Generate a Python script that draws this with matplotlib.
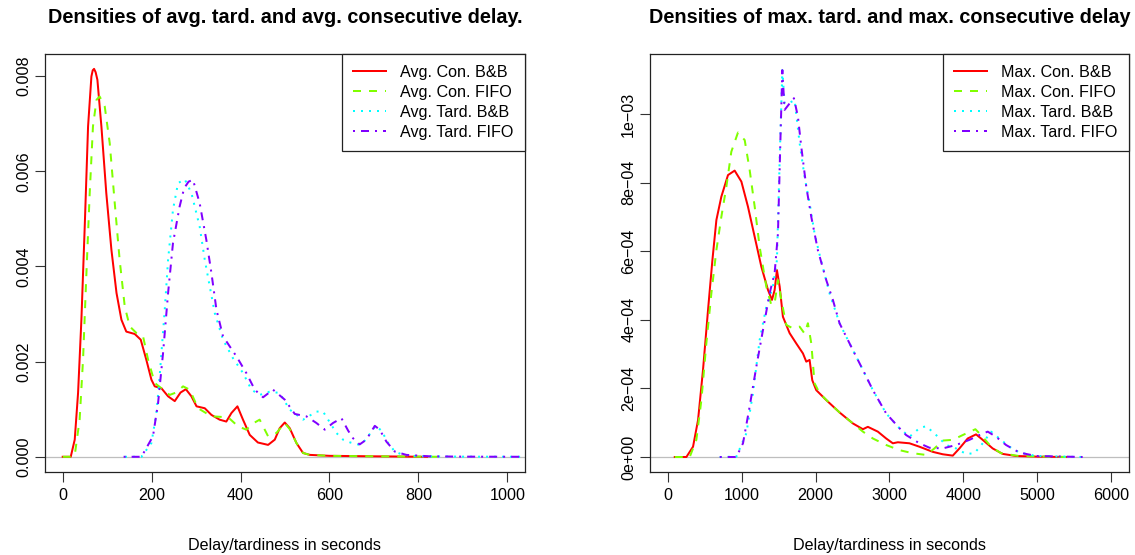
import matplotlib
matplotlib.use('Agg')
import matplotlib.pyplot as plt

plt.rcParams['font.family'] = ['Liberation Sans', 'DejaVu Sans']

# ---- left panel: average delay / tardiness densities ----
avg_con_bb_x = [0, 18, 27, 34.5, 42, 49.5, 57, 64.5, 67.5, 70.5, 74, 78, 87, 98, 109.5, 121, 132, 143,
                162, 175.5, 188, 199.5, 207, 222, 237, 252, 265, 277, 289.5, 301, 319.5, 334.5, 353,
                368, 379.5, 393, 405.5, 420.7, 439, 462, 477, 488, 499.5, 510.7, 525.7, 540.6, 555.7,
                600, 700, 820]
avg_con_bb_y = [0, 0, 0.00036, 0.00134, 0.00288, 0.00484, 0.00694, 0.00799, 0.00812, 0.00815, 0.00808,
                0.00792, 0.00694, 0.00554, 0.00435, 0.00344, 0.00288, 0.00263, 0.00258, 0.00246,
                0.00204, 0.00162, 0.00148, 0.00144, 0.00127, 0.00117, 0.00135, 0.00142, 0.00127,
                0.00106, 0.00102, 0.00088, 0.00078, 0.00074, 0.00092, 0.00106, 0.00078, 0.00046,
                0.00030, 0.00025, 0.00036, 0.00060, 0.00072, 0.00060, 0.00029, 0.00008, 0.00004,
                0.00002, 0.00001, 0]

avg_con_fifo_x = [0, 20, 27, 38, 45.7, 53, 60.7, 68, 76, 83, 94.5, 105.7, 117, 128, 139.5, 150.7, 165.8,
                  180.7, 192, 207, 222, 240.7, 255, 270.7, 285.7, 304.4, 334.5, 372, 394.4, 413, 428,
                  443, 462, 480.7, 499.5, 510.7, 525.7, 540.6, 555.7, 600, 700, 850]
avg_con_fifo_y = [0, 0, 0.00003, 0.00078, 0.00204, 0.00379, 0.00554, 0.00694, 0.0075, 0.00757, 0.00736,
                  0.00659, 0.00533, 0.00414, 0.00316, 0.00274, 0.0026, 0.00253, 0.00204, 0.00155,
                  0.00144, 0.0013, 0.00135, 0.00148, 0.00141, 0.00102, 0.00085, 0.00083, 0.00064,
                  0.00057, 0.0007, 0.00078, 0.00043, 0.0005, 0.00071, 0.00058, 0.00029, 0.00008,
                  0.00004, 0.00002, 0.00001, 0]

avg_tard_bb_x = [140, 177, 199.5, 210.8, 218, 229.5, 237, 248, 259.4, 274.5, 289.5, 308, 319.5, 330.7,
                 342, 360.6, 383, 405.6, 424.5, 443, 465.7, 488, 510.7, 540.6, 570.7, 585.6, 615.7,
                 630.6, 647, 668, 679.4, 690.7, 704, 717, 732, 747, 765.6, 803, 900, 1045]
avg_tard_bb_y = [0, 0, 0.00029, 0.00092, 0.00169, 0.00309, 0.00414, 0.00519, 0.00575, 0.00583, 0.00554,
                 0.00484, 0.00414, 0.00358, 0.00302, 0.00246, 0.00207, 0.00176, 0.00141, 0.0013,
                 0.00137, 0.00134, 0.00099, 0.00078, 0.00095, 0.00095, 0.0005, 0.00036, 0.0003,
                 0.00025, 0.00034, 0.00048, 0.00065, 0.00055, 0.00029, 0.00011, 0.00004, 0.00001,
                 0.000003, 0]

avg_tard_fifo_x = [137, 177, 203, 214.5, 225.7, 237, 248, 263, 273, 283, 293, 308, 323, 334.5, 345.8,
                   360.6, 390.7, 413, 432, 450.6, 473, 499.5, 522, 548, 570.7, 589.4, 608, 627, 642,
                   653, 668, 683, 702, 713, 728, 747, 773, 825, 900, 1045]
avg_tard_fifo_y = [0, 0, 0.00043, 0.00113, 0.00218, 0.00344, 0.00449, 0.00526, 0.00564, 0.00578,
                   0.00582, 0.00533, 0.00456, 0.00386, 0.00309, 0.00253, 0.00211, 0.00176, 0.00141,
                   0.00125, 0.00141, 0.0012, 0.0009, 0.00085, 0.00071, 0.00057, 0.00071, 0.00081,
                   0.00055, 0.00039, 0.00026, 0.00036, 0.00065, 0.00057, 0.00032, 0.00011, 0.00004,
                   0.00001, 0.000003, 0]

# ---- right panel: maximum delay / tardiness densities ----
max_con_bb_x = [95, 252, 342, 410, 477, 545, 604, 658, 725, 815, 905, 996, 1085, 1176, 1266, 1356,
                1410, 1446, 1477, 1514, 1558, 1649, 1739, 1829, 1874, 1919, 1955, 2009, 2144, 2324,
                2504, 2640, 2707, 2842, 2955, 3045, 3113, 3270, 3405, 3586, 3720, 3856, 3946, 4058,
                4171, 4261, 4396, 4531, 4712, 5000, 5390]
max_con_bb_y = [0, 0, 3.0e-5, 1.08e-4, 2.54e-4, 4.29e-4, 5.74e-4, 6.91e-4, 7.59e-4, 8.22e-4, 8.35e-4,
                8.03e-4, 7.30e-4, 6.42e-4, 5.55e-4, 4.87e-4, 4.58e-4, 4.87e-4, 5.45e-4, 4.97e-4,
                4.09e-4, 3.61e-4, 3.31e-4, 3.02e-4, 2.78e-4, 2.83e-4, 2.24e-4, 1.95e-4, 1.66e-4,
                1.30e-4, 9.8e-5, 8.1e-5, 8.8e-5, 7.4e-5, 5.4e-5, 4.0e-5, 4.3e-5, 4.0e-5, 3.0e-5,
                1.5e-5, 8e-6, 4e-6, 2.5e-5, 5.4e-5, 6.6e-5, 5.0e-5, 2.5e-5, 9e-6, 3e-6, 1e-6, 0]

max_con_fifo_x = [95, 297, 387, 455, 522, 590, 658, 725, 793, 860, 950, 1041, 1108, 1176, 1243, 1333,
                  1401, 1446, 1491, 1536, 1604, 1694, 1784, 1851, 1896, 1942, 1986, 2054, 2189, 2324,
                  2504, 2640, 2775, 2955, 3135, 3315, 3496, 3608, 3720, 3856, 3991, 4162, 4261, 4374,
                  4509, 4750, 5390]
max_con_fifo_y = [0, 0, 5.0e-5, 1.66e-4, 3.31e-4, 4.77e-4, 6.03e-4, 7.0e-4, 7.88e-4, 8.9e-4, 9.46e-4,
                  9.24e-4, 8.37e-4, 7.3e-4, 6.13e-4, 4.97e-4, 4.43e-4, 4.48e-4, 5.16e-4, 4.58e-4,
                  3.85e-4, 3.75e-4, 3.8e-4, 3.6e-4, 3.9e-4, 3.31e-4, 2.15e-4, 1.86e-4, 1.57e-4,
                  1.3e-4, 9.8e-5, 7.4e-5, 5.4e-5, 3.5e-5, 2.0e-5, 1.1e-5, 6e-6, 2.5e-5, 4.8e-5,
                  5.0e-5, 6.4e-5, 8.1e-5, 5.9e-5, 3.0e-5, 1.1e-5, 3e-6, 0]

max_tard_bb_x = [703, 928, 1063, 1153, 1243, 1333, 1423, 1477, 1514, 1550, 1581, 1617, 1716, 1784, 1851,
                 1919, 1986, 2054, 2189, 2324, 2504, 2640, 2775, 2955, 3135, 3270, 3405, 3496, 3631,
                 3766, 3901, 4036, 4149, 4261, 4374, 4486, 4622, 4757, 4982, 5613]
max_tard_bb_y = [0, 1e-6, 6.9e-5, 1.86e-4, 3.41e-4, 4.38e-4, 4.97e-4, 5.74e-4, 8.66e-4, 1.128e-3,
                 1.031e-3, 1.03e-3, 1.04e-3, 9.15e-4, 8.17e-4, 7.4e-4, 6.52e-4, 5.9e-4, 4.77e-4, 3.9e-4,
                 3.12e-4, 2.54e-4, 1.95e-4, 1.27e-4, 8.4e-5, 5.9e-5, 8.4e-5, 9.0e-5, 6.4e-5, 3.5e-5,
                 2.5e-5, 9e-6, 1.1e-5, 4.0e-5, 7.4e-5, 5.4e-5, 3.0e-5, 1.3e-5, 3e-6, 0]

max_tard_fifo_x = [703, 928, 1018, 1108, 1198, 1288, 1378, 1446, 1491, 1523, 1550, 1581, 1649, 1707,
                   1761, 1806, 1874, 1942, 2031, 2144, 2234, 2324, 2504, 2640, 2775, 2955, 3135, 3225,
                   3405, 3541, 3720, 3901, 4081, 4216, 4329, 4441, 4577, 4757, 4982, 5613]
max_tard_fifo_y = [0, 0, 4.0e-5, 1.47e-4, 2.63e-4, 3.7e-4, 4.77e-4, 5.36e-4, 6.52e-4, 9.15e-4,
                   1.128e-3, 1.012e-3, 1.031e-3, 1.046e-3, 9.92e-4, 9.05e-4, 7.88e-4, 7.0e-4, 6.03e-4,
                   5.16e-4, 4.58e-4, 3.9e-4, 3.12e-4, 2.54e-4, 1.95e-4, 1.27e-4, 8.4e-5, 6.4e-5, 4.0e-5,
                   2.7e-5, 2.5e-5, 3.5e-5, 5.0e-5, 6.4e-5, 7.4e-5, 5.9e-5, 3.5e-5, 1.3e-5, 3e-6, 0]

avg_labels = ['Avg. Con. B&B', 'Avg. Con. FIFO', 'Avg. Tard. B&B', 'Avg. Tard. FIFO']
max_labels = ['Max. Con. B&B', 'Max. Con. FIFO', 'Max. Tard. B&B', 'Max. Tard. FIFO']

avg_xticks = [0, 200, 400, 600, 800, 1000]
avg_yticks = [0, 0.002, 0.004, 0.006, 0.008]
avg_ytick_labels = ['0.000', '0.002', '0.004', '0.006', '0.008']
max_xticks = [0, 1000, 2000, 3000, 4000, 5000, 6000]
max_yticks = [0, 2e-4, 4e-4, 6e-4, 8e-4, 1e-3]
max_ytick_labels = ['0e+00', '2e\u221204', '4e\u221204', '6e\u221204', '8e\u221204', '1e\u221203']

# R rainbow(4) colours and lty 1..4
colors = ['#FF0000', '#80FF00', '#00FFFF', '#8000FF']
dashes = [None, (4, 4), (1, 3), (1, 3, 4, 3)]
LW = 1.44
FS = 11.6


def draw_panel(ax, curves, labels, title, xlim, ylim, xticks, yticks, ytick_labels):
    """Draw one density panel in the look of R base graphics."""
    ax.axhline(0, color='#BEBEBE', lw=0.9, zorder=1)
    for (xs, ys), lab, c, d in zip(curves, labels, colors, dashes):
        line, = ax.plot(xs, ys, color=c, lw=LW, label=lab, zorder=2)
        if d is not None:
            line.set_dashes(d)
    ax.set_xlim(*xlim)
    ax.set_ylim(*ylim)
    ax.set_xticks(xticks)
    ax.set_xticklabels([str(t) for t in xticks])
    ax.set_yticks(yticks)
    ax.set_yticklabels(ytick_labels, rotation=90, va='center')
    ax.tick_params(axis='both', length=7, width=0.8, labelsize=FS, color='#333333')
    ax.tick_params(axis='x', pad=4)
    ax.tick_params(axis='y', pad=3)
    for s in ax.spines.values():
        s.set_linewidth(0.9)
        s.set_color('#222222')
    ax.set_xlabel('Delay/tardiness in seconds', fontsize=FS)
    ax.xaxis.set_label_coords(0.5, -0.157)
    ax.text(0.5, 1.085, title, transform=ax.transAxes, ha='center', va='center',
            fontsize=14.3, fontweight='bold')
    leg = ax.legend(loc='upper right', borderaxespad=0, fancybox=False, framealpha=1,
                    edgecolor='#222222', fontsize=FS, handlelength=2.0, handletextpad=0.9,
                    labelspacing=0.3, borderpad=0.72)
    leg.get_frame().set_linewidth(0.9)


fig = plt.figure(figsize=(11.35, 5.55), dpi=100)
ax1 = fig.add_axes([0.0396, 0.149, 0.423, 0.7546])
ax2 = fig.add_axes([0.5727, 0.149, 0.422, 0.7546])

draw_panel(ax1,
           [(avg_con_bb_x, avg_con_bb_y), (avg_con_fifo_x, avg_con_fifo_y),
            (avg_tard_bb_x, avg_tard_bb_y), (avg_tard_fifo_x, avg_tard_fifo_y)],
           avg_labels, 'Densities of avg. tard. and avg. consecutive delay.',
           (-40, 1040), (-0.000326, 0.008473), avg_xticks, avg_yticks, avg_ytick_labels)

draw_panel(ax2,
           [(max_con_bb_x, max_con_bb_y), (max_con_fifo_x, max_con_fifo_y),
            (max_tard_bb_x, max_tard_bb_y), (max_tard_fifo_x, max_tard_fifo_y)],
           max_labels, 'Densities of max. tard. and max. consecutive delay',
           (-240, 6240), (-4.46e-5, 1.1764e-3), max_xticks, max_yticks, max_ytick_labels)

fig.savefig('out.png', dpi=100)
